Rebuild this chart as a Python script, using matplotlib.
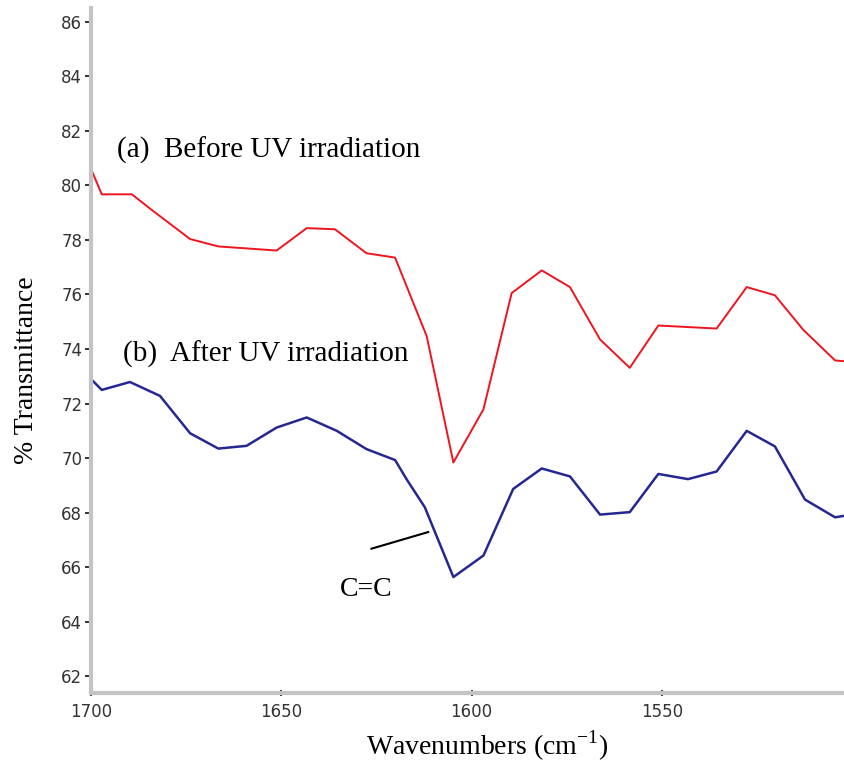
import matplotlib
matplotlib.use("Agg")
import matplotlib.pyplot as plt
from matplotlib.ticker import MultipleLocator

# spectrum (a): before UV irradiation
wn_a = [1700.0, 1697.1, 1689.2, 1684.0, 1673.9, 1666.5, 1651.2, 1643.3, 1635.9,
        1627.6, 1620.1, 1611.8, 1604.8, 1596.9, 1589.5, 1581.6, 1574.2, 1566.3,
        1558.5, 1551.0, 1535.7, 1527.8, 1520.4, 1513.0, 1504.6, 1502.0]
tr_a = [80.63, 79.67, 79.67, 79.10, 78.03, 77.76, 77.61, 78.43, 78.39,
        77.51, 77.35, 74.47, 69.84, 71.79, 76.05, 76.88, 76.27, 74.35,
        73.31, 74.86, 74.75, 76.27, 75.97, 74.71, 73.58, 73.55]

# spectrum (b): after UV irradiation
wn_b = [1700.0, 1697.1, 1689.7, 1681.8, 1673.9, 1666.5, 1659.1, 1651.2, 1643.3,
        1635.4, 1627.6, 1620.1, 1617.1, 1612.3, 1604.8, 1596.9, 1589.1, 1581.6,
        1574.2, 1566.3, 1558.5, 1551.0, 1543.2, 1535.7, 1527.8, 1520.4, 1512.5,
        1504.6, 1502.0]
tr_b = [72.91, 72.50, 72.79, 72.28, 70.91, 70.35, 70.45, 71.12, 71.49,
        71.00, 70.33, 69.93, 69.23, 68.20, 65.64, 66.43, 68.87, 69.62,
        69.33, 67.93, 68.02, 69.42, 69.23, 69.51, 71.00, 70.43, 68.48,
        67.83, 67.89]

label_a = "(a)  Before UV irradiation"
label_b = "(b)  After UV irradiation"
peak_label = "C=C"

serif = ["Liberation Serif", "DejaVu Serif"]

fig = plt.figure(figsize=(8.45, 7.65), dpi=100)
ax = fig.add_axes([90.7 / 845, 72 / 765, (845 - 90.7) / 845, (693 - 8) / 765])

ax.plot(wn_a, tr_a, color="#f0141e", lw=1.4)
ax.plot(wn_b, tr_b, color="#262891", lw=1.8)

ax.set_xlim(1700, 1502)
ax.set_ylim(61.39, 86.5)

ax.xaxis.set_major_locator(MultipleLocator(50))
ax.xaxis.set_minor_locator(MultipleLocator(10))
ax.yaxis.set_major_locator(MultipleLocator(2))
ax.yaxis.set_minor_locator(MultipleLocator(0.5))

for side in ("top", "right"):
    ax.spines[side].set_visible(False)
for side in ("left", "bottom"):
    ax.spines[side].set_color("#c4c4c4")
    ax.spines[side].set_linewidth(3)

ax.tick_params(axis="x", which="major", direction="inout", length=5, width=1.3,
               color="#222222", labelsize=12, labelcolor="#333333", pad=5)
ax.tick_params(axis="y", which="major", direction="out", length=4, width=1.3,
               color="#222222", labelsize=12, labelcolor="#333333", pad=2)
ax.tick_params(which="minor", direction="inout", length=2, width=1.6,
               color="#222222")

ax.text(1693, 81.3, label_a, family=serif, fontsize=21, va="center", ha="left")
ax.text(1691.5, 73.8, label_b, family=serif, fontsize=21, va="center", ha="left")

ax.plot([1626.3, 1611.4], [66.68, 67.29], color="black", lw=1.5)
ax.text(1627.7, 65.2, peak_label, family=serif, fontsize=20, va="center", ha="center")

ax.set_xlabel("Wavenumbers (cm$^{\\mathregular{-1}}$)", family=serif, fontsize=20)
ax.set_ylabel("% Transmittance", family=serif, fontsize=20)
ax.xaxis.set_label_coords(0.525, -0.052)
ax.yaxis.set_label_coords(-0.069, 0.4715)

fig.savefig("out.png", dpi=100)
